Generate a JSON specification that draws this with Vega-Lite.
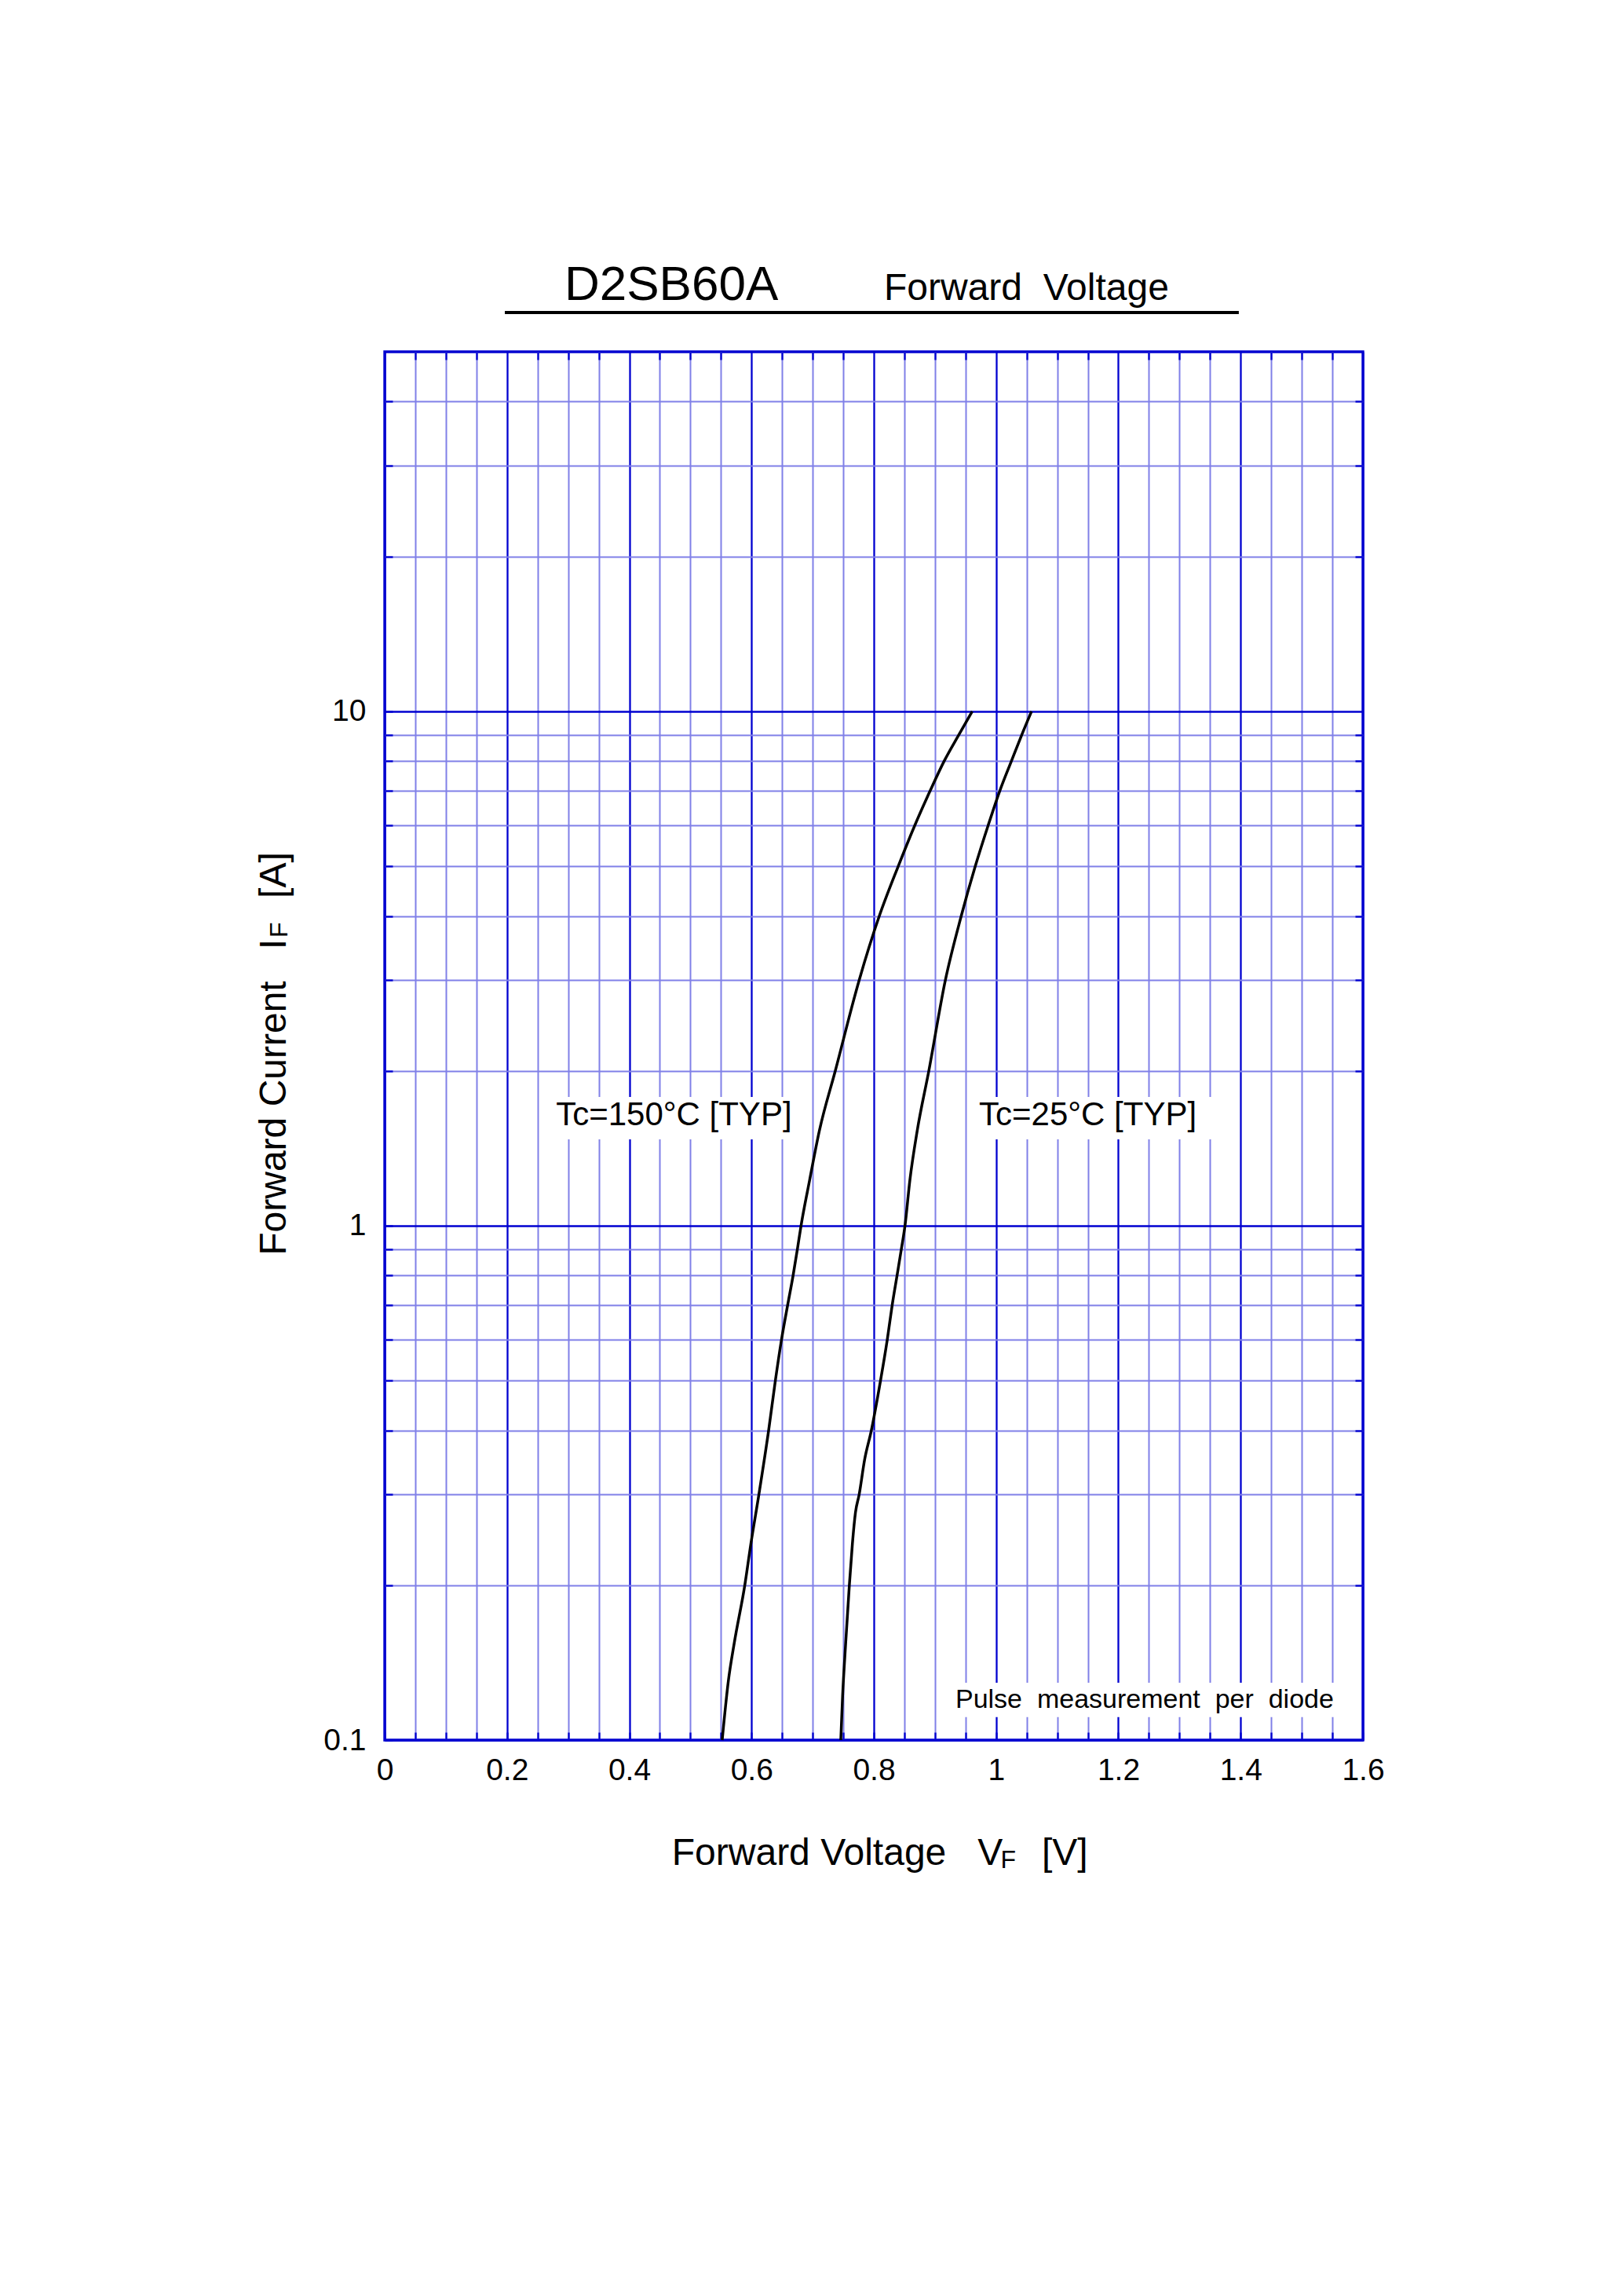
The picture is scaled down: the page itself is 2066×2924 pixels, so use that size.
{
  "$schema": "https://vega.github.io/schema/vega-lite/v6.json",
  "autosize": "none",
  "width": 1246,
  "height": 1768,
  "padding": {"left": 490, "top": 448, "right": 330, "bottom": 708},
  "background": "white",
  "config": {
    "view": {"stroke": "#0000D0", "strokeWidth": 3.4},
    "font": "Liberation Sans",
    "text": {"font": "Liberation Sans", "color": "black"}
  },
  "data": {
    "values": [
      {"temp": "150", "voltage": 0.552, "current": 0.1},
      {"temp": "150", "voltage": 0.562, "current": 0.13},
      {"temp": "150", "voltage": 0.572, "current": 0.155},
      {"temp": "150", "voltage": 0.589, "current": 0.2},
      {"temp": "150", "voltage": 0.599, "current": 0.241},
      {"temp": "150", "voltage": 0.612, "current": 0.3},
      {"temp": "150", "voltage": 0.628, "current": 0.4},
      {"temp": "150", "voltage": 0.639, "current": 0.5},
      {"temp": "150", "voltage": 0.649, "current": 0.6},
      {"temp": "150", "voltage": 0.659, "current": 0.7},
      {"temp": "150", "voltage": 0.668, "current": 0.8},
      {"temp": "150", "voltage": 0.675, "current": 0.9},
      {"temp": "150", "voltage": 0.681, "current": 1.0},
      {"temp": "150", "voltage": 0.695, "current": 1.226},
      {"temp": "150", "voltage": 0.711, "current": 1.53},
      {"temp": "150", "voltage": 0.737, "current": 2.0},
      {"temp": "150", "voltage": 0.776, "current": 3},
      {"temp": "150", "voltage": 0.809, "current": 4},
      {"temp": "150", "voltage": 0.840, "current": 5},
      {"temp": "150", "voltage": 0.867, "current": 6},
      {"temp": "150", "voltage": 0.892, "current": 7},
      {"temp": "150", "voltage": 0.915, "current": 8},
      {"temp": "150", "voltage": 0.939, "current": 9},
      {"temp": "150", "voltage": 0.961, "current": 10},
      {"temp": "25", "voltage": 0.746, "current": 0.1},
      {"temp": "25", "voltage": 0.749, "current": 0.122},
      {"temp": "25", "voltage": 0.754, "current": 0.1545},
      {"temp": "25", "voltage": 0.760, "current": 0.2},
      {"temp": "25", "voltage": 0.765, "current": 0.241},
      {"temp": "25", "voltage": 0.770, "current": 0.277},
      {"temp": "25", "voltage": 0.776, "current": 0.3},
      {"temp": "25", "voltage": 0.785, "current": 0.351},
      {"temp": "25", "voltage": 0.796, "current": 0.4},
      {"temp": "25", "voltage": 0.811, "current": 0.5},
      {"temp": "25", "voltage": 0.822, "current": 0.6},
      {"temp": "25", "voltage": 0.830, "current": 0.7},
      {"temp": "25", "voltage": 0.838, "current": 0.8},
      {"temp": "25", "voltage": 0.845, "current": 0.9},
      {"temp": "25", "voltage": 0.851, "current": 1.0},
      {"temp": "25", "voltage": 0.859, "current": 1.226},
      {"temp": "25", "voltage": 0.871, "current": 1.53},
      {"temp": "25", "voltage": 0.890, "current": 2.0},
      {"temp": "25", "voltage": 0.917, "current": 3},
      {"temp": "25", "voltage": 0.943, "current": 4},
      {"temp": "25", "voltage": 0.966, "current": 5},
      {"temp": "25", "voltage": 0.987, "current": 6},
      {"temp": "25", "voltage": 1.006, "current": 7},
      {"temp": "25", "voltage": 1.025, "current": 8},
      {"temp": "25", "voltage": 1.042, "current": 9},
      {"temp": "25", "voltage": 1.058, "current": 10}
    ]
  },
  "layer": [
    {
      "mark": {"type": "line", "color": "black", "strokeWidth": 3.5, "interpolate": "monotone"},
      "encoding": {
        "x": {
          "field": "voltage",
          "type": "quantitative",
          "scale": {"domain": [0, 1.6], "nice": false, "zero": false},
          "axis": {
            "title": null,
            "domain": false,
            "values": [0, 0.05, 0.1, 0.15, 0.2, 0.25, 0.3, 0.35, 0.4, 0.45, 0.5, 0.55, 0.6, 0.65, 0.7, 0.75, 0.8, 0.85, 0.9, 0.95, 1, 1.05, 1.1, 1.15, 1.2, 1.25, 1.3, 1.35, 1.4, 1.45, 1.5, 1.55, 1.6],
            "tickCount": 100,
            "format": "~g",
            "labelExpr": "abs(datum.value*5 - round(datum.value*5)) < 0.01 ? datum.label : ''",
            "labelFont": "Liberation Sans",
            "labelFontSize": 39,
            "labelColor": "black",
            "labelPadding": 29,
            "labelFlush": false,
            "labelOverlap": false,
            "labelBound": false,
            "grid": true,
            "gridColor": {"condition": {"test": "abs(datum.value*5 - round(datum.value*5)) < 0.01", "value": "#0000D0"}, "value": "#8080E8"},
            "gridWidth": {"condition": {"test": "abs(datum.value*5 - round(datum.value*5)) < 0.01", "value": 2.3}, "value": 2},
            "gridOpacity": 1,
            "ticks": true,
            "tickSize": -10,
            "tickWidth": 2.3,
            "tickColor": "#0000D0"
          }
        },
        "y": {
          "field": "current",
          "type": "quantitative",
          "scale": {"type": "log", "domain": [0.1, 50], "nice": false},
          "axis": {
            "title": null,
            "domain": false,
            "values": [0.1, 0.2, 0.3, 0.4, 0.5, 0.6, 0.7, 0.8, 0.9, 1, 2, 3, 4, 5, 6, 7, 8, 9, 10, 20, 30, 40],
            "tickCount": 100,
            "format": "~g",
            "labelExpr": "abs(log(datum.value)/LN10 - round(log(datum.value)/LN10)) < 0.01 ? datum.label : ''",
            "labelFont": "Liberation Sans",
            "labelFontSize": 39,
            "labelColor": "black",
            "labelPadding": 34,
            "labelFlush": false,
            "labelOverlap": false,
            "labelBound": false,
            "grid": true,
            "gridColor": {"condition": {"test": "abs(log(datum.value)/LN10 - round(log(datum.value)/LN10)) < 0.01", "value": "#0000D0"}, "value": "#8080E8"},
            "gridWidth": {"condition": {"test": "abs(log(datum.value)/LN10 - round(log(datum.value)/LN10)) < 0.01", "value": 2.6}, "value": 2},
            "gridOpacity": 1,
            "ticks": true,
            "tickSize": -10,
            "tickWidth": 2.3,
            "tickColor": "#0000D0"
          }
        },
        "detail": {"field": "temp", "type": "nominal"}
      }
    },
    {
      "mark": {"type": "line", "opacity": 0},
      "encoding": {
        "x": {
          "field": "voltage",
          "type": "quantitative",
          "axis": {
            "orient": "top",
            "title": null,
            "domain": false,
            "labels": false,
            "grid": false,
            "values": [0.05, 0.1, 0.15, 0.25, 0.3, 0.35, 0.45, 0.5, 0.55, 0.65, 0.7, 0.75, 0.85, 0.9, 0.95, 1.05, 1.1, 1.15, 1.25, 1.3, 1.35, 1.45, 1.5, 1.55],
            "tickCount": 100,
            "ticks": true,
            "tickSize": -10,
            "tickWidth": 2.3,
            "tickColor": "#0000D0"
          }
        },
        "y": {
          "field": "current",
          "type": "quantitative",
          "axis": {
            "orient": "right",
            "title": null,
            "domain": false,
            "labels": false,
            "grid": false,
            "values": [0.2, 0.3, 0.4, 0.5, 0.6, 0.7, 0.8, 0.9, 2, 3, 4, 5, 6, 7, 8, 9, 20, 30, 40],
            "tickCount": 100,
            "ticks": true,
            "tickSize": -10,
            "tickWidth": 2.3,
            "tickColor": "#0000D0"
          }
        },
        "detail": {"field": "temp", "type": "nominal"}
      }
    },
    {
      "data": {"values": [{}]},
      "mark": {"type": "rect", "color": "white", "opacity": 1},
      "encoding": {
        "x": {"datum": 0.262, "type": "quantitative", "axis": null},
        "x2": {"datum": 0.684},
        "y": {"datum": 1.78, "type": "quantitative", "axis": null},
        "y2": {"datum": 1.472}
      }
    },
    {
      "data": {"values": [{}]},
      "mark": {"type": "rect", "color": "white", "opacity": 1},
      "encoding": {
        "x": {"datum": 0.995, "type": "quantitative", "axis": null},
        "x2": {"datum": 1.36},
        "y": {"datum": 1.78, "type": "quantitative", "axis": null},
        "y2": {"datum": 1.472}
      }
    },
    {
      "data": {"values": [{}]},
      "mark": {"type": "rect", "color": "white", "opacity": 1},
      "encoding": {
        "x": {"datum": 0.918, "type": "quantitative", "axis": null},
        "x2": {"datum": 1.575},
        "y": {"datum": 0.1293, "type": "quantitative", "axis": null},
        "y2": {"datum": 0.1108}
      }
    },
    {
      "data": {"values": [{}]},
      "mark": {"type": "text", "fontSize": 42, "align": "center", "baseline": "alphabetic"},
      "encoding": {
        "x": {"datum": 0.473, "type": "quantitative", "axis": null},
        "y": {"datum": 1.568, "type": "quantitative", "axis": null},
        "text": {"value": "Tc=150°C [TYP]"}
      }
    },
    {
      "data": {"values": [{}]},
      "mark": {"type": "text", "fontSize": 42, "align": "center", "baseline": "alphabetic"},
      "encoding": {
        "x": {"datum": 1.15, "type": "quantitative", "axis": null},
        "y": {"datum": 1.568, "type": "quantitative", "axis": null},
        "text": {"value": "Tc=25°C [TYP]"}
      }
    },
    {
      "data": {"values": [{}]},
      "mark": {"type": "text", "fontSize": 34, "align": "left", "baseline": "alphabetic"},
      "encoding": {
        "x": {"datum": 0.9335, "type": "quantitative", "axis": null},
        "y": {"datum": 0.1155, "type": "quantitative", "axis": null},
        "text": {"value": "Pulse\u00a0 measurement\u00a0 per\u00a0 diode"}
      }
    },
    {
      "data": {"values": [{}]},
      "mark": {"type": "text", "fontSize": 62, "align": "left", "baseline": "alphabetic"},
      "encoding": {
        "x": {"datum": 0.294, "type": "quantitative", "axis": null},
        "y": {"datum": 63.06, "type": "quantitative", "axis": null},
        "text": {"value": "D2SB60A"}
      }
    },
    {
      "data": {"values": [{}]},
      "mark": {"type": "text", "fontSize": 48, "align": "left", "baseline": "alphabetic"},
      "encoding": {
        "x": {"datum": 0.8167, "type": "quantitative", "axis": null},
        "y": {"datum": 63.06, "type": "quantitative", "axis": null},
        "text": {"value": "Forward\u00a0 Voltage"}
      }
    },
    {
      "data": {"values": [{}]},
      "mark": {"type": "rule", "color": "black", "strokeWidth": 4},
      "encoding": {
        "x": {"datum": 0.1965, "type": "quantitative", "axis": null},
        "x2": {"datum": 1.397},
        "y": {"datum": 59.6, "type": "quantitative", "axis": null}
      }
    },
    {
      "data": {"values": [{}]},
      "mark": {"type": "text", "fontSize": 48, "align": "right", "baseline": "alphabetic"},
      "encoding": {
        "x": {"datum": 1.011, "type": "quantitative", "axis": null},
        "y": {"datum": 0.0572, "type": "quantitative", "axis": null},
        "text": {"value": "Forward Voltage\u00a0\u00a0 V"}
      }
    },
    {
      "data": {"values": [{}]},
      "mark": {"type": "text", "fontSize": 32, "align": "left", "baseline": "alphabetic", "dy": 4},
      "encoding": {
        "x": {"datum": 1.0075, "type": "quantitative", "axis": null},
        "y": {"datum": 0.0572, "type": "quantitative", "axis": null},
        "text": {"value": "F"}
      }
    },
    {
      "data": {"values": [{}]},
      "mark": {"type": "text", "fontSize": 48, "align": "left", "baseline": "alphabetic"},
      "encoding": {
        "x": {"datum": 1.0748, "type": "quantitative", "axis": null},
        "y": {"datum": 0.0572, "type": "quantitative", "axis": null},
        "text": {"value": "[V]"}
      }
    },
    {
      "data": {"values": [{}]},
      "mark": {"type": "text", "fontSize": 48, "align": "right", "baseline": "alphabetic", "angle": 270},
      "encoding": {
        "x": {"datum": -0.162, "type": "quantitative", "axis": null},
        "y": {"datum": 3.607, "type": "quantitative", "axis": null},
        "text": {"value": "Forward Current\u00a0\u00a0 I"}
      }
    },
    {
      "data": {"values": [{}]},
      "mark": {"type": "text", "fontSize": 32, "align": "left", "baseline": "alphabetic", "angle": 270, "dx": 2, "dy": 2},
      "encoding": {
        "x": {"datum": -0.162, "type": "quantitative", "axis": null},
        "y": {"datum": 3.607, "type": "quantitative", "axis": null},
        "text": {"value": "F"}
      }
    },
    {
      "data": {"values": [{}]},
      "mark": {"type": "text", "fontSize": 48, "align": "left", "baseline": "alphabetic", "angle": 270},
      "encoding": {
        "x": {"datum": -0.162, "type": "quantitative", "axis": null},
        "y": {"datum": 4.331, "type": "quantitative", "axis": null},
        "text": {"value": "[A]"}
      }
    }
  ],
  "resolve": {"axis": {"x": "independent", "y": "independent"}}
}
